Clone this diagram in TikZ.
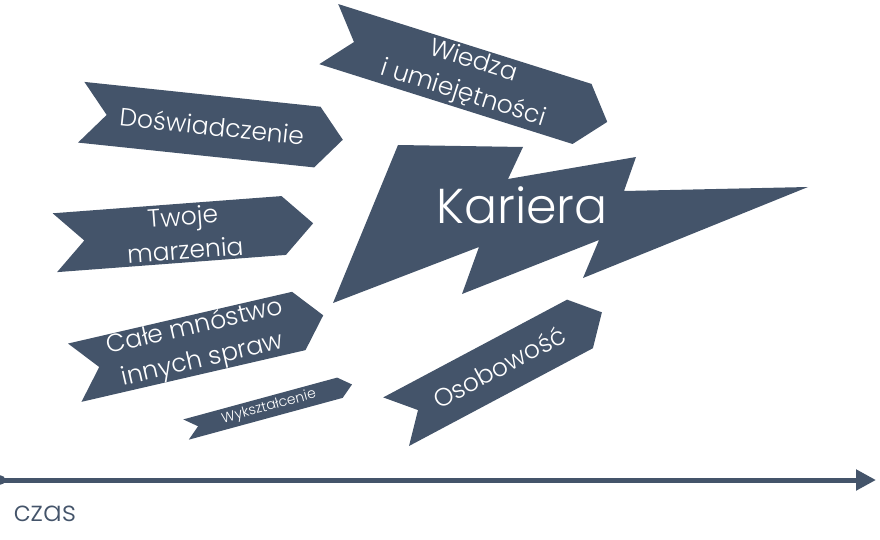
\documentclass[tikz,border=0pt]{standalone}
\usepackage{fontspec}
\setmainfont{Poppins}[UprightFont=* Light]
\usetikzlibrary{shapes.symbols,arrows.meta}
\definecolor{slate}{RGB}{68,84,106}

\begin{document}
\begin{tikzpicture}[x=1pt,y=-1pt,
  banner/.style={shape=signal,signal from=west,signal to=east,signal pointer angle=100,
    fill=slate,text=white,align=center,inner sep=0pt,font=\fontsize{25}{34}\selectfont},
  timeline/.style={slate,line width=5pt,{Circle[length=9pt]}-{Triangle[length=20pt,width=20pt]}}]
\useasboundingbox (0,0) rectangle (880,540);
% the bolt
\fill[slate] (398,145) -- (523,147) -- (508,179) -- (636,157) -- (624,191) -- (808,187)
  -- (583,278) -- (599,240) -- (462,294) -- (479,247) -- (333,303) -- cycle;
\node[text=white,font=\fontsize{49}{60}\selectfont] (kariera) at (522,205) {Kariera};
% the banners
\node[banner,rotate=-17.5,minimum width=292pt,minimum height=63pt] (wiedza) at (468,78) {Wiedza\\i umiejętności};
\node[banner,rotate=-6,minimum width=263pt,minimum height=61pt] (doswiadczenie) at (212,126) {Doświadczenie};
\node[banner,rotate=4.3,signal pointer angle=90,minimum width=259pt,minimum height=59pt] (marzenia) at (184,233) {Twoje\\marzenia};
\node[banner,rotate=13,minimum width=255pt,minimum height=54pt] (sprawy) at (199,344) {Całe mnóstwo\\innych spraw};
\node[banner,rotate=15.2,signal pointer angle=80,minimum width=172pt,minimum height=21pt,
  font=\fontsize{14}{16}\selectfont] (wyksztalcenie) at (269,407) {Wykształcenie};
\node[banner,rotate=28,signal pointer angle=96,minimum width=233pt,minimum height=55pt] (osobowosc) at (499,367) {Osobowość};
% time axis
\coordinate (t0) at (-4,480);
\coordinate (t1) at (876,480);
\draw[timeline] (t0) -- (t1);
\node[slate,anchor=base west,font=\fontsize{28}{32}\selectfont] (czas) at (10,521) {czas};
\end{tikzpicture}
\end{document}
